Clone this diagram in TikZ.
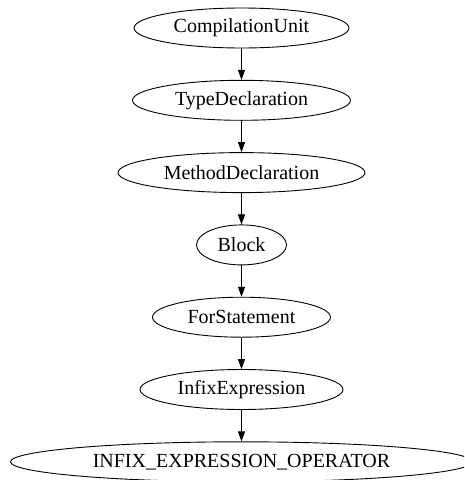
\documentclass[tikz,border=0pt]{standalone}
\usepackage{fontspec}
\setmainfont{Liberation Serif}
\usetikzlibrary{shapes.geometric,arrows.meta}
\tikzset{
  astnode/.style={draw, ellipse, line width=0.9pt, inner sep=0pt,
    minimum height=40pt, font=\fontsize{20}{24}\selectfont},
  edge/.style={line width=0.9pt, -{Triangle[length=10pt,width=7pt]}}
}
\begin{document}
\begin{tikzpicture}[x=1pt,y=1pt]
  \useasboundingbox (0,0) rectangle (464,-480);
  \clip (0,0) rectangle (464,-480);
  \node[astnode, minimum width=215pt] (cu)  at (241.5,-28)    {CompilationUnit};
  \node[astnode, minimum width=218pt] (td)  at (241.5,-100.3) {TypeDeclaration};
  \node[astnode, minimum width=247pt] (md)  at (241.5,-172.6) {MethodDeclaration};
  \node[astnode, minimum width=90pt]  (blk) at (241.5,-244.9) {Block};
  \node[astnode, minimum width=178pt] (fs)  at (241.5,-317.2) {ForStatement};
  \node[astnode, minimum width=203pt] (ie)  at (241.5,-389.5) {InfixExpression};
  \node[astnode, minimum width=462pt] (op)  at (241.5,-461.8) {INFIX\_EXPRESSION\_OPERATOR};
  \draw[edge] (cu) -- (td);
  \draw[edge] (td) -- (md);
  \draw[edge] (md) -- (blk);
  \draw[edge] (blk) -- (fs);
  \draw[edge] (fs) -- (ie);
  \draw[edge] (ie) -- (op);
\end{tikzpicture}
\end{document}
